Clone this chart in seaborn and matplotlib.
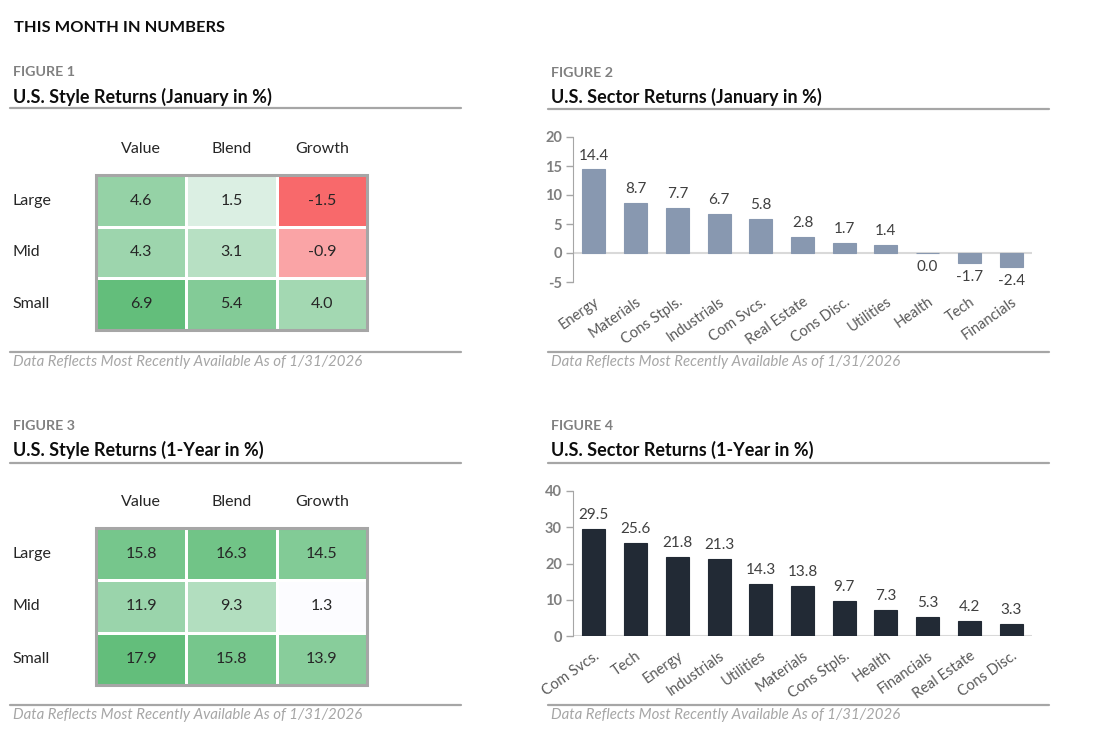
import pandas as pd
import matplotlib.pyplot as plt
import seaborn as sns
from matplotlib.colors import LinearSegmentedColormap, TwoSlopeNorm, Normalize
from matplotlib.lines import Line2D
from matplotlib.patches import Rectangle

# ---- data ----
styles = ['Value', 'Blend', 'Growth']
sizes = ['Large', 'Mid', 'Small']
style_jan = [[4.6, 1.5, -1.5],
             [4.3, 3.1, -0.9],
             [6.9, 5.4, 4.0]]
style_1yr = [[15.8, 16.3, 14.5],
             [11.9, 9.3, 1.3],
             [17.9, 15.8, 13.9]]

sectors_jan = ['Energy', 'Materials', 'Cons Stpls.', 'Industrials', 'Com Svcs.',
               'Real Estate', 'Cons Disc.', 'Utilities', 'Health', 'Tech', 'Financials']
returns_jan = [14.4, 8.7, 7.7, 6.7, 5.8, 2.8, 1.7, 1.4, -0.04, -1.7, -2.4]

sectors_1yr = ['Com Svcs.', 'Tech', 'Energy', 'Industrials', 'Utilities', 'Materials',
               'Cons Stpls.', 'Health', 'Financials', 'Real Estate', 'Cons Disc.']
returns_1yr = [29.5, 25.6, 21.8, 21.3, 14.3, 13.8, 9.7, 7.3, 5.3, 4.2, 3.3]

footnote = 'Data Reflects Most Recently Available As of 1/31/2026'

sns.set_style('white')
plt.rcParams['font.family'] = ['Lato', 'DejaVu Sans']

W, H = 1110, 734
fig = plt.figure(figsize=(W / 100, H / 100), dpi=100)


def box(x0, y0, x1, y1):
    return [x0 / W, 1 - y1 / H, (x1 - x0) / W, (y1 - y0) / H]


def label(x, y, s, **kw):
    fig.text(x / W, 1 - y / H, s, va='center', ha='left', **kw)


def rule(x0, x1, y):
    fig.add_artist(Line2D([x0 / W, x1 / W], [1 - y / H, 1 - y / H],
                          color='#A6A6A6', lw=1.6, transform=fig.transFigure))


def panel_frame(x0, x1, y_fig, y_title, y_top, y_bot, y_note, num, title):
    label(x0 + 3, y_fig, f'FIGURE {num}', fontsize=10.3, fontweight='bold', color='#808080')
    label(x0 + 3, y_title, title, fontsize=13, fontweight='bold', color='#0D0D0D')
    rule(x0, x1, y_top)
    rule(x0, x1, y_bot)
    label(x0 + 3, y_note, footnote, fontsize=10.8, style='italic', color='#A6A6A6')


red_white_green = LinearSegmentedColormap.from_list('rwg', ['#F8696B', '#FCFCFF', '#63BE7B'])
white_green = LinearSegmentedColormap.from_list('wg', ['#FCFCFF', '#63BE7B'])


def style_heatmap(rect, data, cmap, norm):
    ax = fig.add_axes(box(*rect))
    df = pd.DataFrame(data, index=sizes, columns=styles)
    sns.heatmap(df, ax=ax, cmap=cmap, norm=norm, annot=True, fmt='.1f',
                annot_kws={'fontsize': 11.5, 'color': '#262626'},
                linewidths=2, linecolor='white', cbar=False)
    ax.xaxis.tick_top()
    ax.tick_params(length=0)
    ax.tick_params(axis='x', pad=14, labelsize=11.5, labelcolor='#262626')
    ax.tick_params(axis='y', pad=60, labelsize=11.5, labelcolor='#262626')
    ax.set_yticklabels(sizes, rotation=0, ha='left')
    ax.set_xlabel('')
    ax.set_ylabel('')
    ax.add_patch(Rectangle((0, 0), 3, 3, fill=False, edgecolor='#A6A6A6', lw=2.2, clip_on=False))


def sector_bars(rect, cats, vals, color, ylim, yticks):
    ax = fig.add_axes(box(*rect))
    sns.barplot(x=cats, y=vals, color=color, width=0.55, saturation=1,
                edgecolor=color, linewidth=0.8, ax=ax)
    ax.set_xlim(-0.5, len(cats) - 0.5)
    ax.set_ylim(*ylim)
    ax.set_yticks(yticks)
    ax.set_yticklabels([str(t) for t in yticks], fontweight='bold', color='#7F7F7F', fontsize=10.5)
    ax.tick_params(axis='y', left=True, length=5, width=1, color='#A6A6A6', pad=3)
    ax.tick_params(axis='x', length=0, pad=9)
    ax.set_xticks(range(len(cats)))
    ax.set_xticklabels(cats, rotation=35, ha='right', rotation_mode='anchor',
                       fontsize=10.5, color='#595959')
    sns.despine(ax=ax, bottom=True)
    ax.spines['left'].set_color('#A6A6A6')
    ax.axhline(0, color='#D9D9D9', lw=1.5, zorder=0.5)
    ax.bar_label(ax.containers[0], labels=[f'{round(v, 1) + 0.0:.1f}' for v in vals],
                 padding=5, fontsize=11, color='#404040')


# header
label(14, 28, 'THIS MONTH IN NUMBERS', fontsize=11.8, fontweight='bold', color='#0D0D0D')

# figure 1
panel_frame(10, 461, 72, 97, 108, 352, 362, 1, 'U.S. Style Returns (January in %)')
style_heatmap((96, 175, 367, 330), style_jan, red_white_green,
              TwoSlopeNorm(vmin=min(min(r) for r in style_jan), vcenter=0,
                           vmax=max(max(r) for r in style_jan)))

# figure 3
panel_frame(10, 461, 426, 450, 463, 705, 715, 3, 'U.S. Style Returns (1-Year in %)')
style_heatmap((96, 528, 367, 685), style_1yr, white_green,
              Normalize(vmin=min(min(r) for r in style_1yr), vmax=max(max(r) for r in style_1yr)))

# figure 2
panel_frame(548, 1049, 73, 97, 109, 352, 362, 2, 'U.S. Sector Returns (January in %)')
sector_bars((573, 137, 1032, 282), sectors_jan, returns_jan, '#8898B0', (-5, 20), [-5, 0, 5, 10, 15, 20])

# figure 4
panel_frame(548, 1049, 426, 450, 463, 705, 715, 4, 'U.S. Sector Returns (1-Year in %)')
sector_bars((573, 491, 1032, 636), sectors_1yr, returns_1yr, '#222A35', (0, 40), [0, 10, 20, 30, 40])

fig.savefig('out.png', dpi=100)
